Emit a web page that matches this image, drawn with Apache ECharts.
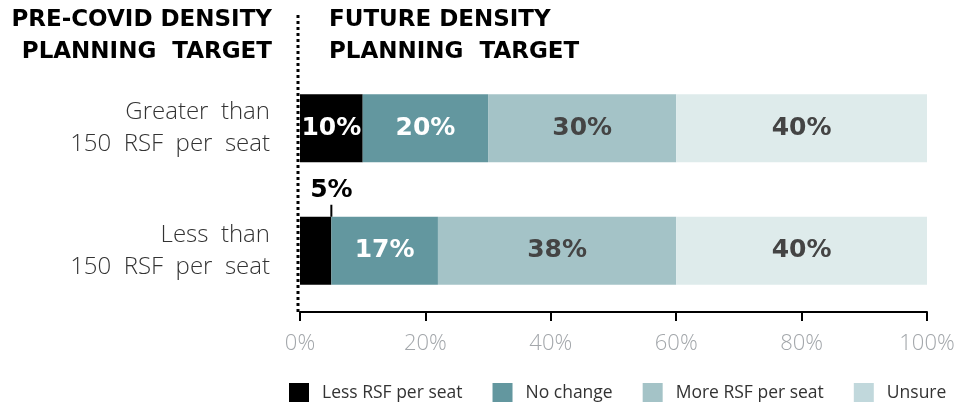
<!DOCTYPE html>
<html lang="en">
  <head>
    <meta charset="UTF-8" />
    <title>Density Planning Target</title>
    <script src="https://cdn.jsdelivr.net/npm/echarts@6/dist/echarts.min.js"></script>
    <style>
      body {
        margin: 0;
        padding: 0;
        background: #fff;
      }
      #main {
        width: 960px;
        height: 402px;
      }
    </style>
  </head>
  <body>
    <div id="main"></div>

    <script>
      // categories (pre-covid target) and series (future target), in percent
      const categories = ["Greater  than\n150  RSF  per  seat", "Less  than\n150  RSF  per  seat"];
      const seriesNames = ["Less RSF per seat", "No change", "More RSF per seat", "Unsure"];
      const lessRsf = [10, 5];
      const noChange = [20, 17];
      const moreRsf = [30, 38];
      const unsure = [40, 40];
      const xTicks = [0, 20, 40, 60, 80, 100];

      const barColors = ["#000000", "#63979f", "#a4c3c7", "#deebeb"];
      const legendColors = ["#000000", "#63979f", "#a4c3c7", "#c1d8dc"];
      const labelColors = ["#ffffff", "#ffffff", "#444444", "#444444"];
      const boldFont = "'DejaVu Sans', sans-serif";
      const lightFont = "'Open Sans', Lato, sans-serif";

      const myChart = echarts.init(document.getElementById("main"));

      const values = [lessRsf, noChange, moreRsf, unsure];

      // bar segments
      const barSeries = values.map((vals, s) => ({
        name: seriesNames[s],
        type: "bar",
        stack: "total",
        barWidth: 68,
        itemStyle: { color: barColors[s] },
        label: {
          show: true,
          position: "inside",
          color: labelColors[s],
          fontFamily: boldFont,
          fontWeight: "bold",
          fontSize: 25,
          formatter: (p) => p.value + "%",
        },
        data: vals.map((v) =>
          // too narrow for an inside label: drawn as callout below
          v < 8 ? { value: v, label: { show: false } } : v
        ),
      }));

      // callout for narrow segments (label above with a short leader line)
      const callout = {
        type: "custom",
        name: "callout",
        silent: true,
        z: 10,
        data: lessRsf.map((v, i) => [v, i]).filter((d) => d[0] < 8),
        renderItem: function (params, api) {
          const pt = api.coord([api.value(0), api.value(1)]);
          const barTop = pt[1] - 34;
          return {
            type: "group",
            children: [
              {
                type: "line",
                shape: { x1: pt[0], y1: barTop, x2: pt[0], y2: barTop - 12 },
                style: { stroke: "#000", lineWidth: 2 },
              },
              {
                type: "text",
                style: {
                  x: pt[0],
                  y: barTop - 26,
                  text: api.value(0) + "%",
                  fill: "#000",
                  font: "bold 25px " + boldFont,
                  textAlign: "center",
                  textVerticalAlign: "middle",
                },
              },
            ],
          };
        },
      };

      const option = {
        animation: false,
        grid: {
          left: 300,
          right: 33,
          top: 67,
          height: 245,
        },
        xAxis: {
          type: "value",
          min: 0,
          max: 100,
          interval: 20,
          axisLine: { show: true, lineStyle: { color: "#000", width: 2 } },
          axisTick: { show: true, length: 9, lineStyle: { color: "#000", width: 2 } },
          splitLine: { show: false },
          axisLabel: {
            margin: 21,
            color: "#a3a7ab",
            fontFamily: lightFont,
            fontWeight: 300,
            fontSize: 22,
            formatter: (v) => (xTicks.includes(v) ? v + "%" : ""),
          },
        },
        yAxis: {
          type: "category",
          data: categories,
          inverse: true,
          axisLine: { show: false },
          axisTick: { show: false },
          axisLabel: {
            margin: 30,
            color: "#333",
            fontFamily: lightFont,
            fontWeight: 300,
            fontSize: 24,
            lineHeight: 32,
            align: "right",
          },
        },
        legend: {
          left: 289,
          top: 383,
          padding: 0,
          itemWidth: 20,
          itemHeight: 20,
          itemGap: 30,
          icon: "rect",
          textStyle: {
            color: "#333",
            fontFamily: lightFont,
            fontSize: 17.5,
            padding: [0, 0, 0, 8],
          },
          data: seriesNames.map((n, i) => ({
            name: n,
            itemStyle: { color: legendColors[i] },
          })),
        },
        graphic: [
          {
            type: "line",
            shape: { x1: 298, y1: 15, x2: 298, y2: 312 },
            style: { stroke: "#000", lineWidth: 3, lineDash: [3, 3] },
          },
          {
            type: "text",
            right: 688,
            top: 4,
            style: {
              text: "PRE-COVID DENSITY\nPLANNING  TARGET",
              fill: "#000",
              font: "bold 23px " + boldFont,
              lineHeight: 32,
              textAlign: "right",
            },
          },
          {
            type: "text",
            left: 329,
            top: 4,
            style: {
              text: "FUTURE DENSITY\nPLANNING  TARGET",
              fill: "#000",
              font: "bold 23px " + boldFont,
              lineHeight: 32,
              textAlign: "left",
            },
          },
        ],
        series: [...barSeries, callout],
      };

      myChart.setOption(option);
    </script>
  </body>
</html>
